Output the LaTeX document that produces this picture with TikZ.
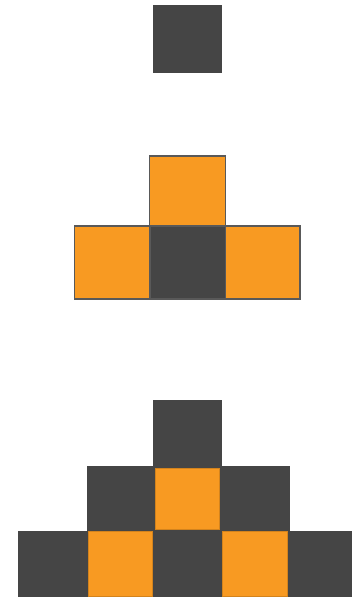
\documentclass[tikz,border=0pt]{standalone}
\definecolor{cellgray}{HTML}{454545}
\definecolor{cellorange}{HTML}{F89A22}
\tikzset{
  darkcell/.style={fill=cellgray},
  orangecell/.style={fill=cellorange},
  edged/.style={draw=gray!70!black, line width=1.1pt},
}
\begin{document}
\begin{tikzpicture}[x=1pt, y=-1pt]
        \useasboundingbox (0,0) rectangle (352,597);
        \clip (0,0) rectangle (352,597);
        % stage 1: a single dark cell
        \fill[darkcell] (153,5) rectangle (222,73);
        % stage 2: orange cross round a dark centre
        \fill[orangecell] (149.5,156) rectangle (225.5,226);
        \fill[orangecell] (74.5,226) rectangle (150,299);
        \fill[darkcell] (150,226) rectangle (225.5,299);
        \fill[orangecell] (225.5,226) rectangle (300,299);
        \draw[edged] (149.5,156) rectangle (225.5,226);
        \foreach \xa/\xb in {74.5/150, 150/225.5, 225.5/300}
          \draw[edged] (\xa,226) rectangle (\xb,299);
        % stage 3: checkered pyramid, rows from the top
        \fill[darkcell] (153.3,399.5) rectangle (222.3,465.5);
        \fill[darkcell] (86.7,465.5) rectangle (290,530.7);
        \fill[darkcell] (18.3,530.7) rectangle (360,596.5);
        \foreach \xa/\xb/\ya/\yb in {155.7/219/468.3/529.3, 88.3/152.3/531.5/596, 222.7/287.3/531.5/596}
          \filldraw[orangecell, draw=cellorange!85!black, line width=0.6pt] (\xa,\ya) rectangle (\xb,\yb);
      \end{tikzpicture}
\end{document}
